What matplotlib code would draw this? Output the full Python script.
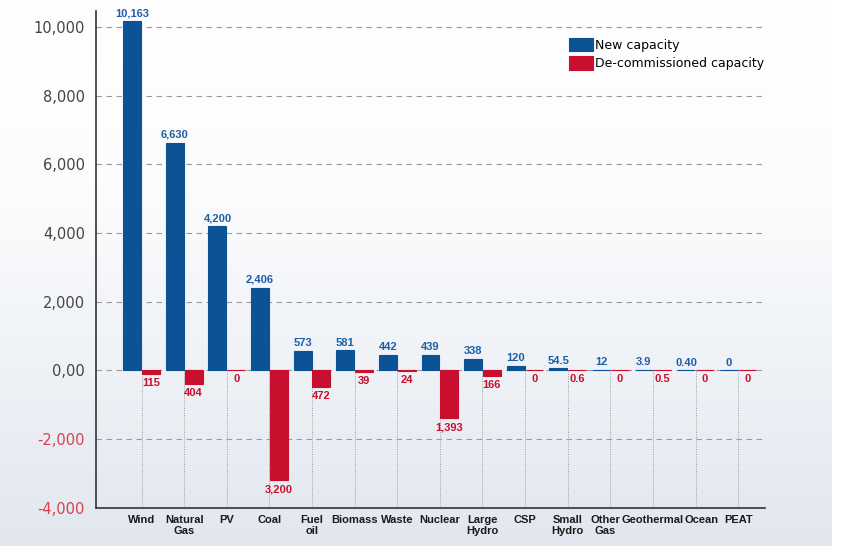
import numpy as np
import matplotlib.pyplot as plt
import matplotlib.transforms as mtransforms
from matplotlib.colors import LinearSegmentedColormap

# Data
categories = ['Wind', 'Natural\nGas', 'PV', 'Coal', 'Fuel\noil', 'Biomass', 'Waste',
              'Nuclear', 'Large\nHydro', 'CSP', 'Small\nHydro', 'Other\nGas',
              'Geothermal', 'Ocean', 'PEAT']
new_capacity = [10163, 6630, 4200, 2406, 573, 581, 442, 439, 338, 120, 54.5, 12, 3.9, 0.40, 0]
decom_capacity = [115, 404, 0, 3200, 472, 39, 24, 1393, 166, 0, 0.6, 0, 0.5, 0, 0]
new_labels = ['10,163', '6,630', '4,200', '2,406', '573', '581', '442', '439', '338',
              '120', '54.5', '12', '3.9', '0.40', '0']
decom_labels = ['115', '404', '0', '3,200', '472', '39', '24', '1,393', '166',
                '0', '0.6', '0', '0.5', '0', '0']
yticks = [10000, 8000, 6000, 4000, 2000, 0, -2000, -4000]
ytick_labels = ['10,000', '8,000', '6,000', '4,000', '2,000', '0,00', '-2,000', '-4,000']

blue = '#0b5394'
red = '#c8102e'
blue_txt = '#1d5ea8'
red_txt = '#c8102e'
lab_font = 'Liberation Sans'

fig = plt.figure(figsize=(8.56, 5.54), dpi=100)

# gradient background panel
bg = fig.add_axes([0, 1 - 546 / 554, 832 / 856, 546 / 554])
cmap = LinearSegmentedColormap.from_list('bg', [(0, '#ffffff'), (0.35, '#fbfcfd'), (1, '#e2e7ef')])
grad = np.linspace(0, 1, 256).reshape(-1, 1)
bg.imshow(grad, aspect='auto', cmap=cmap, extent=[0, 1, 1, 0])
bg.axis('off')

ax = fig.add_axes([96 / 856, 1 - 507.7 / 554, (765 - 96) / 856, (507.7 - 11) / 554])
ax.patch.set_alpha(0)

x = np.arange(len(categories))
w = 0.42
off = 0.22

ax.vlines(x, -4000, 0, colors='#9a9a9a', linestyles=(0, (1, 1.5)), linewidth=0.7, zorder=1)
for yv in yticks[:-1]:
    ax.axhline(yv, color='#9a9a9a', linestyle=(0, (5, 4)), linewidth=0.8, zorder=1)

ax.bar(x - off, new_capacity, width=w, color=blue, edgecolor=blue, linewidth=0.8,
       zorder=3, label='New capacity')
ax.bar(x + off, [-v for v in decom_capacity], width=w, color=red, edgecolor=red,
       linewidth=0.8, zorder=3, label='De-commissioned capacity')

for xi, v, lab in zip(x, new_capacity, new_labels):
    ax.annotate(lab, (xi - off, v), xytext=(0, 2), textcoords='offset points',
                ha='center', va='bottom', fontsize=8, fontweight='bold',
                color=blue_txt, family=lab_font, zorder=4)
for xi, v, lab in zip(x, decom_capacity, decom_labels):
    ax.annotate(lab, (xi + off, -v), xytext=(0, -3), textcoords='offset points',
                ha='center', va='top', fontsize=8, fontweight='bold',
                color=red_txt, family=lab_font, zorder=4)

ax.set_xlim(-1.07, 14.63)
ax.set_ylim(-4000, 10460)
ax.set_yticks(yticks)
ax.set_yticklabels(ytick_labels, fontsize=10.5)
for t, v in zip(ax.get_yticklabels(), yticks):
    t.set_color('#d9414f' if v < 0 else '#444444')
ax.tick_params(axis='y', length=0, pad=8)

ax.set_xticks(x)
ax.set_xticklabels(categories, fontsize=8, fontweight='bold', color='#1a1a1a',
                   family=lab_font, linespacing=1.15)
ax.tick_params(axis='x', length=0, pad=5)

# nudge crowded labels apart, as in the original
shifts = {'Other\nGas': -5, 'Ocean': 6}
for t in ax.get_xticklabels():
    dx = shifts.get(t.get_text(), 0)
    if dx:
        t.set_transform(t.get_transform() + mtransforms.ScaledTranslation(dx / 100, 0, fig.dpi_scale_trans))

for s in ['top', 'right']:
    ax.spines[s].set_visible(False)
for s in ['left', 'bottom']:
    ax.spines[s].set_color('#333333')
    ax.spines[s].set_linewidth(1.2)

ax.legend(loc='upper left', bbox_to_anchor=(0.707, 0.946), frameon=False, fontsize=9,
          handlelength=1.9, handleheight=1.3, handletextpad=0.15, borderpad=0,
          borderaxespad=0, labelspacing=0.35)

fig.savefig('out.png', dpi=100)
